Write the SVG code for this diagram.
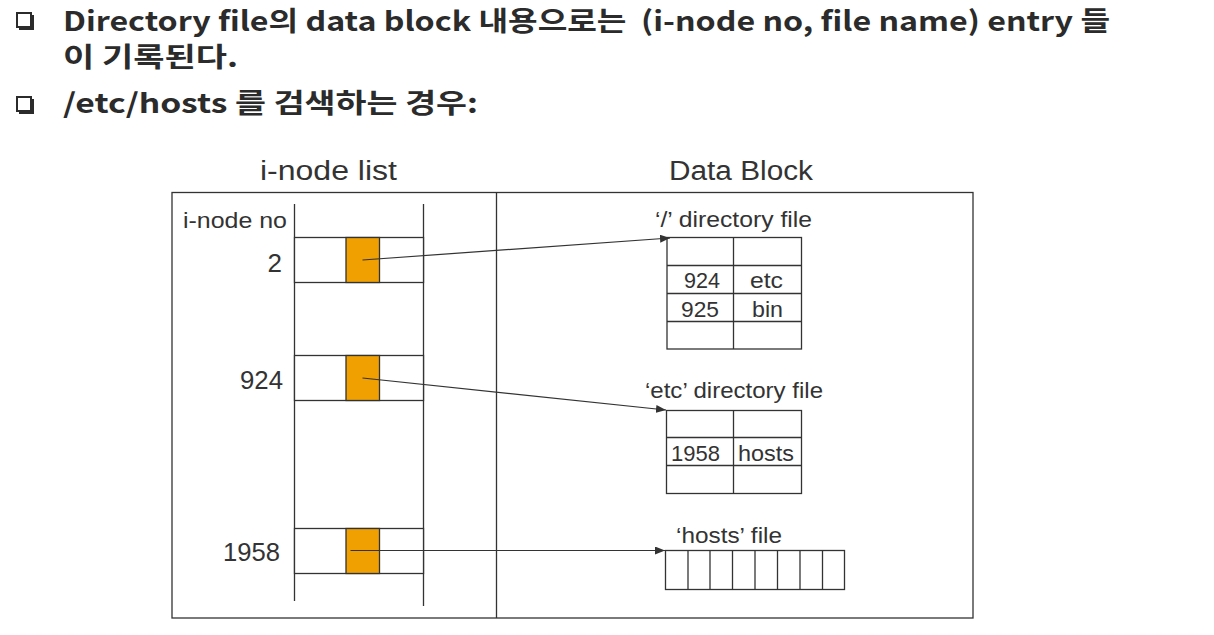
<svg xmlns="http://www.w3.org/2000/svg" width="1214" height="635" viewBox="0 0 1214 635">
<style>
.title{font-family:"Noto Sans CJK KR","Noto Sans",sans-serif;font-weight:bold;font-size:27px;fill:#2b2b2b;white-space:pre}
.lbl{font-family:"Liberation Sans","Noto Sans CJK KR",sans-serif;font-size:22px;fill:#333}
.num{font-family:"Liberation Sans","Noto Sans CJK KR",sans-serif;font-size:26px;fill:#333}
.big{font-family:"Liberation Sans","Noto Sans CJK KR",sans-serif;font-size:27px;fill:#333}
.ln{stroke:#333;stroke-width:1.3;fill:none}
.box{stroke:#333;stroke-width:1.3;fill:#fff}
.org{stroke:#333;stroke-width:1.3;fill:#F0A000}
.bul{fill:none;stroke:#2b2b2b;stroke-width:2}
.arr{stroke:#333;stroke-width:1.2;fill:none;marker-end:url(#ah)}
</style>
<defs>
<marker id="ah" viewBox="0 0 10 8" refX="10" refY="4" markerWidth="10" markerHeight="8" markerUnits="userSpaceOnUse" orient="auto">
<path d="M0,0 L10,4 L0,8 z" fill="#333"/>
</marker>
</defs>
<rect width="1214" height="635" fill="#fff"/>
<g id="header">
<rect class="bul" x="17" y="13" width="14" height="14"/>
<path d="M33,15 V29 H19" stroke="#2b2b2b" stroke-width="2" fill="none"/>
<text class="title" x="63" y="31" textLength="1047" lengthAdjust="spacingAndGlyphs">Directory file의 data block 내용으로는  (i-node no, file name) entry 들</text>
<text class="title" x="63" y="67" textLength="175" lengthAdjust="spacingAndGlyphs">이 기록된다.</text>
<rect class="bul" x="17" y="97" width="14" height="14"/>
<path d="M33,99 V113 H19" stroke="#2b2b2b" stroke-width="2" fill="none"/>
<text class="title" x="63" y="113" textLength="415" lengthAdjust="spacingAndGlyphs">/etc/hosts 를 검색하는 경우:</text>
</g>
<g id="frame">
<text class="big" x="260" y="180" textLength="137" lengthAdjust="spacingAndGlyphs">i-node list</text>
<text class="big" x="669" y="180" textLength="144" lengthAdjust="spacingAndGlyphs">Data Block</text>
<rect class="ln" x="172" y="192.5" width="801" height="425.5"/>
<line class="ln" x1="496.5" y1="192.5" x2="496.5" y2="618"/>
</g>
<g id="inode-list">
<text class="lbl" x="183" y="228" textLength="104" lengthAdjust="spacingAndGlyphs">i-node no</text>
<line class="ln" x1="294.5" y1="204" x2="294.5" y2="601"/>
<line class="ln" x1="423.5" y1="204" x2="423.5" y2="606"/>
</g>
<g id="inode-2">
<rect class="box" x="294.5" y="237.5" width="129" height="45"/>
<rect class="org" x="346" y="237.5" width="33.5" height="45"/>
<text class="num" x="282" y="272" text-anchor="end">2</text>
</g>
<g id="inode-924">
<rect class="box" x="294.5" y="355.5" width="129" height="45"/>
<rect class="org" x="346" y="355.5" width="33.5" height="45"/>
<text class="num" x="240" y="389" textLength="43" lengthAdjust="spacingAndGlyphs">924</text>
</g>
<g id="inode-1958">
<rect class="box" x="294.5" y="528.5" width="129" height="45"/>
<rect class="org" x="346" y="528.5" width="33.5" height="45"/>
<text class="num" x="223" y="561" textLength="57" lengthAdjust="spacingAndGlyphs">1958</text>
</g>
<g id="root-dir">
<text class="lbl" x="655" y="227" textLength="157" lengthAdjust="spacingAndGlyphs">‘/’ directory file</text>
<rect class="ln" x="667" y="237.5" width="134.5" height="111.5"/>
<line class="ln" x1="733.5" y1="237.5" x2="733.5" y2="349"/>
<line class="ln" x1="667" y1="265.5" x2="801.5" y2="265.5"/>
<line class="ln" x1="667" y1="293.5" x2="801.5" y2="293.5"/>
<line class="ln" x1="667" y1="321.5" x2="801.5" y2="321.5"/>
<text class="lbl" x="684" y="288" textLength="36" lengthAdjust="spacingAndGlyphs">924</text>
<text class="lbl" x="750" y="288" textLength="33" lengthAdjust="spacingAndGlyphs">etc</text>
<text class="lbl" x="681" y="317" textLength="38" lengthAdjust="spacingAndGlyphs">925</text>
<text class="lbl" x="752" y="317" textLength="31" lengthAdjust="spacingAndGlyphs">bin</text>
</g>
<g id="etc-dir">
<text class="lbl" x="645" y="398" textLength="178" lengthAdjust="spacingAndGlyphs">‘etc’ directory file</text>
<rect class="ln" x="666.5" y="410.5" width="135" height="83"/>
<line class="ln" x1="733.5" y1="410.5" x2="733.5" y2="493.5"/>
<line class="ln" x1="666.5" y1="437.5" x2="801.5" y2="437.5"/>
<line class="ln" x1="666.5" y1="465.5" x2="801.5" y2="465.5"/>
<text class="lbl" x="671" y="461" textLength="49" lengthAdjust="spacingAndGlyphs">1958</text>
<text class="lbl" x="738" y="461" textLength="56" lengthAdjust="spacingAndGlyphs">hosts</text>
</g>
<g id="hosts-file">
<text class="lbl" x="676" y="543" textLength="106" lengthAdjust="spacingAndGlyphs">‘hosts’ file</text>
<rect class="ln" x="665.5" y="550.5" width="179" height="39"/>
<line class="ln" x1="688" y1="550.5" x2="688" y2="589.5"/>
<line class="ln" x1="710" y1="550.5" x2="710" y2="589.5" stroke-width="2"/>
<line class="ln" x1="732.5" y1="550.5" x2="732.5" y2="589.5"/>
<line class="ln" x1="755" y1="550.5" x2="755" y2="589.5"/>
<line class="ln" x1="777.5" y1="550.5" x2="777.5" y2="589.5"/>
<line class="ln" x1="800" y1="550.5" x2="800" y2="589.5"/>
<line class="ln" x1="822.5" y1="550.5" x2="822.5" y2="589.5"/>
</g>
<g id="connectors">
<line class="arr" x1="362.5" y1="260" x2="670" y2="238"/>
<line class="arr" x1="362.5" y1="378" x2="666" y2="410"/>
<line class="arr" x1="350.5" y1="550.5" x2="665" y2="550.5"/>
</g>
</svg>
